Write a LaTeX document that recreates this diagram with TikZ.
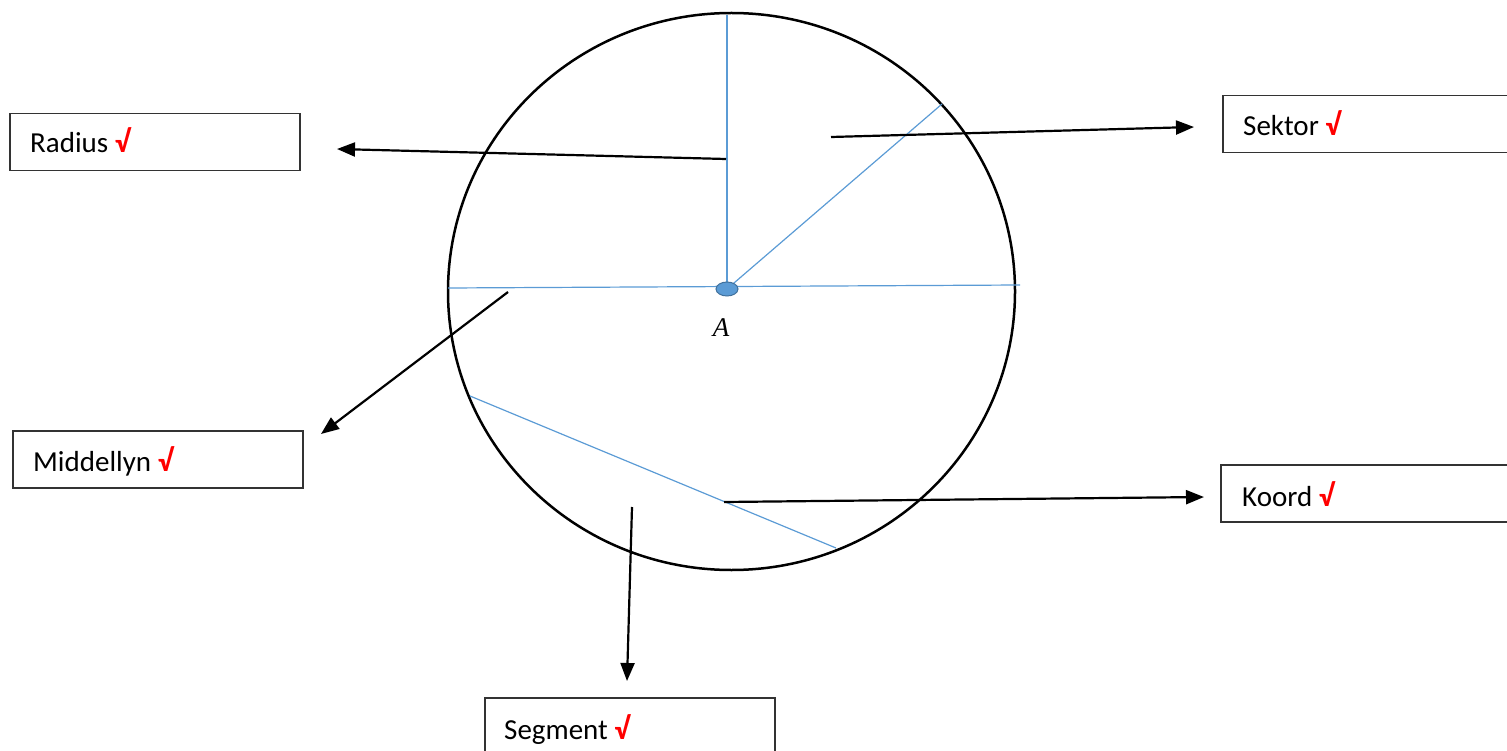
\documentclass[tikz,border=0pt]{standalone}
\usepackage{fontspec}
\setmainfont{Carlito}
\newfontfamily\labelserif{Liberation Serif}
\usetikzlibrary{arrows.meta,shapes.geometric}
\definecolor{lineblue}{HTML}{5B9BD5}
\definecolor{dotedge}{HTML}{41719C}
\newcommand{\redtick}{{\color{red}\bfseries\fontsize{31}{34}\selectfont √}}
\begin{document}
\begin{tikzpicture}[x=1pt,y=-1pt,
  labelbox/.style={draw=black!80,line width=1.5pt,minimum height=57pt,anchor=north west,inner sep=0pt},
  lbl/.style={anchor=base west,font=\fontsize{29}{34}\selectfont,inner sep=0pt},
  pointer/.style={line width=2.2pt,-{Triangle[length=18pt,width=14pt]}},
  thinline/.style={lineblue,line width=1.2pt}]
\useasboundingbox (0,0) rectangle (1507,751);
\clip (0,0) rectangle (1507,751);
% boxes
\node[labelbox,minimum width=290pt] (radiusbox) at (9,113) {};
\node[labelbox,minimum width=300pt] (sektorbox) at (1222,95) {};
\node[labelbox,minimum width=290pt] (middelbox) at (12,430) {};
\node[labelbox,minimum width=300pt] (koordbox) at (1220,464) {};
\node[labelbox,minimum width=290pt,minimum height=70pt] (segmentbox) at (484,697) {};
% labels
\node[lbl] (radiustxt) at (30,153) {Radius \redtick};
\node[lbl] (sektortxt) at (1243,136) {Sektor \redtick};
\node[lbl] (middeltxt) at (33,471) {Middellyn \redtick};
\node[lbl] (koordtxt) at (1242,506) {Koord \redtick};
\node[lbl] (segmenttxt) at (504,739) {Segment \redtick};
% circle
\coordinate (O) at (727,289);
\draw[line width=2.5pt] (731.5,291.5) ellipse [x radius=283.5, y radius=278.5];
% blue lines
\coordinate (top) at (727,15);
\coordinate (diag) at (942,104);
\coordinate (hl) at (448,288);
\coordinate (hr) at (1020,285);
\coordinate (chA) at (470,396);
\coordinate (chB) at (836,548);
\draw[thinline] (O) -- (top);
\draw[thinline] (O) -- (diag);
\draw[thinline] (hl) -- (hr);
\draw[thinline] (chA) -- (chB);
\node[ellipse,draw=dotedge,fill=lineblue,line width=1pt,minimum width=22pt,minimum height=14pt,inner sep=0pt] (A) at (O) {};
\node[font=\labelserif\itshape\fontsize{27}{30}\selectfont] (Alabel) at (721,328) {A};
% arrows
\coordinate (r1) at (726,159); \coordinate (r2) at (337,149);
\coordinate (s1) at (831,137); \coordinate (s2) at (1194,127);
\coordinate (m1) at (508,292); \coordinate (m2) at (321,434);
\coordinate (k1) at (724,502); \coordinate (k2) at (1204,497);
\coordinate (g1) at (632,507); \coordinate (g2) at (627,681);
\draw[pointer] (r1) -- (r2);
\draw[pointer] (s1) -- (s2);
\draw[pointer] (m1) -- (m2);
\draw[pointer] (k1) -- (k2);
\draw[pointer] (g1) -- (g2);
\end{tikzpicture}
\end{document}
